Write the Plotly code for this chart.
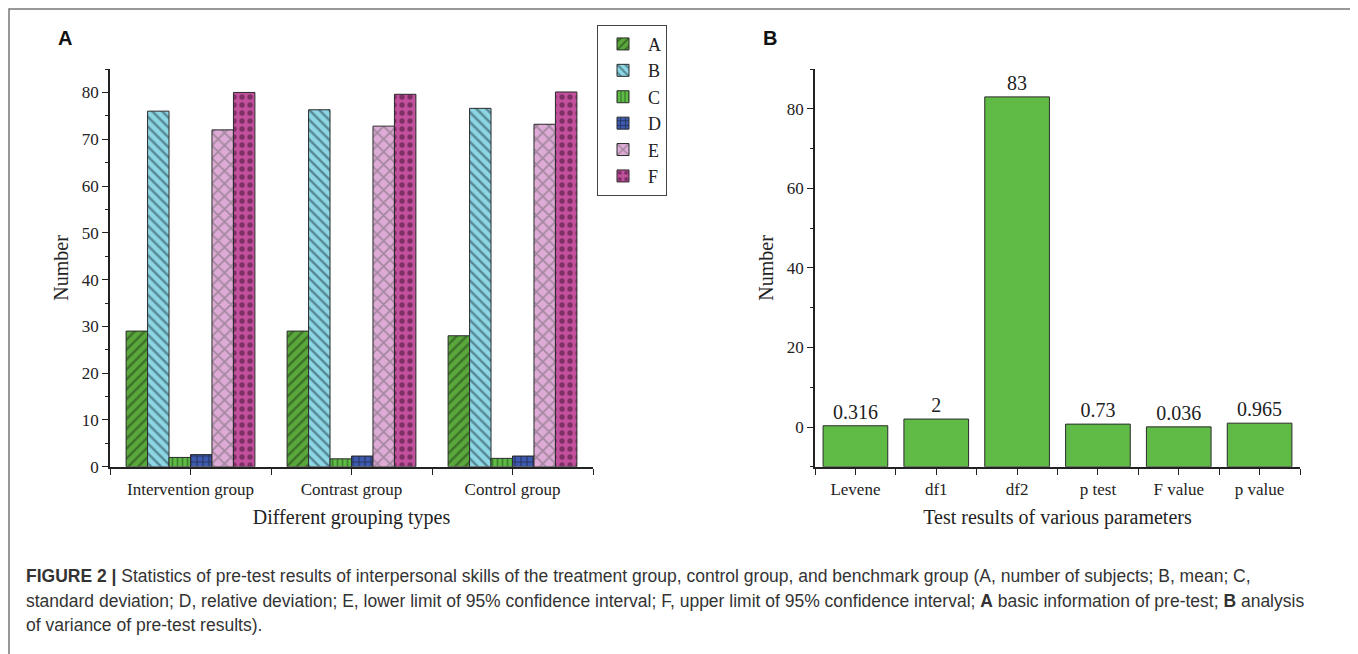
import plotly.graph_objects as go

# ---------------- data ----------------
groups = ["Intervention group", "Contrast group", "Control group"]
series_names = ["A", "B", "C", "D", "E", "F"]
vals_A = [29.0, 29.0, 28.0]
vals_B = [76.0, 76.3, 76.6]
vals_C = [2.0, 1.7, 1.8]
vals_D = [2.6, 2.3, 2.3]
vals_E = [72.0, 72.8, 73.2]
vals_F = [80.0, 79.6, 80.1]

params = ["Levene", "df1", "df2", "p test", "F value", "p value"]
param_vals = [0.316, 2, 83, 0.73, 0.036, 0.965]
param_labels = ["0.316", "2", "83", "0.73", "0.036", "0.965"]

caption_lines = [
    "<b>FIGURE 2 |</b> Statistics of pre-test results of interpersonal skills of the treatment group, control group, and benchmark group (A, number of subjects; B, mean; C,",
    "standard deviation; D, relative deviation; E, lower limit of 95% confidence interval; F, upper limit of 95% confidence interval; <b>A</b> basic information of pre-test; <b>B</b> analysis",
    "of variance of pre-test results).",
]

# ---------------- styling ----------------
OFF = 8  # default page body margin
W, H = 1358 - OFF, 654 - OFF
SERIF = "Liberation Serif"
SANS = "Liberation Sans"
series_vals = [vals_A, vals_B, vals_C, vals_D, vals_E, vals_F]
fills = ["#5aa83c", "#8dd6e4", "#5fbb45", "#3d5ab0", "#deaad6", "#c2519d"]
pshapes = ["/", "\\", "|", "+", "x", "."]
pfg = ["#1e3a14", "#1d3a44", "#1e4a18", "#111111", "#666666", "#3a1030"]
psize = [7, 7, 5, 6, 9, 8]


def px(x):
    return (x - OFF) / W


def py(y):
    return 1 - (y - OFF) / H


fig = go.Figure()

xs = list(range(len(groups)))
for name, v, fc, sh, fg, sz in zip(series_names, series_vals, fills, pshapes, pfg, psize):
    fig.add_trace(go.Bar(
        x=xs, y=v, name=name, xaxis="x", yaxis="y",
        marker=dict(color=fc, line=dict(color="#2b2b2b", width=1),
                    pattern=dict(shape=sh, fgcolor=fg, bgcolor=fc, size=sz, solidity=0.35)),
        offsetgroup=name,
    ))

base_b = -10
xb = list(range(len(params)))
fig.add_trace(go.Bar(
    x=xb, y=[v - base_b for v in param_vals], base=base_b,
    xaxis="x2", yaxis="y2", showlegend=False,
    marker=dict(color="#60bb46", line=dict(color="#2b2b2b", width=1)),
    text=param_labels, textposition="outside", cliponaxis=False,
    textfont=dict(family=SERIF, size=20, color="#222"),
    width=0.8,
))

axis_common = dict(
    showline=True, linecolor="#222", linewidth=1.5, ticks="outside",
    tickcolor="#222", ticklen=6, tickwidth=1.2, showgrid=False, zeroline=False,
    tickfont=dict(family=SERIF, size=17, color="#222"),
)
title_font = dict(family=SERIF, size=20, color="#222")

fig.update_layout(
    width=W, height=H, margin=dict(l=0, r=0, t=0, b=0),
    paper_bgcolor="white", plot_bgcolor="white",
    barmode="group", bargap=0.2, bargroupgap=0,
    showlegend=True,
    legend=dict(x=px(597), y=py(25), xanchor="left", yanchor="top",
                bordercolor="#444", borderwidth=1, bgcolor="white",
                font=dict(family=SERIF, size=18, color="#222"),
                tracegroupgap=0, itemwidth=40),
    xaxis=dict(domain=[px(110), px(593)], range=[-0.5, len(groups) - 0.5],
               tickvals=xs, ticktext=groups,
               minor=dict(tickvals=[i - 0.5 for i in range(len(groups) + 1)],
                          ticks="outside", ticklen=6, tickcolor="#222"),
               title=dict(text="Different grouping types", font=title_font, standoff=12),
               anchor="y", **axis_common),
    yaxis=dict(domain=[py(474), py(70)], range=[0, 85], tickvals=[0, 10, 20, 30, 40, 50, 60, 70, 80],
               minor=dict(dtick=5, tick0=0, ticks="outside", ticklen=3, tickcolor="#222"),
               title=dict(text="Number", font=title_font, standoff=8),
               anchor="x", **axis_common),
    xaxis2=dict(domain=[px(815), px(1300)], range=[-0.5, len(params) - 0.5],
                tickvals=xb, ticktext=params,
                minor=dict(tickvals=[i - 0.5 for i in range(len(params) + 1)],
                           ticks="outside", ticklen=6, tickcolor="#222"),
                title=dict(text="Test results of various parameters", font=title_font, standoff=12),
                anchor="y2", **axis_common),
    yaxis2=dict(domain=[py(474), py(70)], range=[-10, 90], tickvals=[0, 20, 40, 60, 80],
                minor=dict(dtick=10, tick0=0, ticks="outside", ticklen=3, tickcolor="#222"),
                title=dict(text="Number", font=title_font, standoff=8),
                anchor="x2", **axis_common),
)

annotations = [
    dict(text="<b>A</b>", x=px(65), y=py(38), xref="paper", yref="paper", showarrow=False,
         font=dict(family=SANS, size=20, color="#111"), xanchor="center", yanchor="middle"),
    dict(text="<b>B</b>", x=px(770), y=py(38), xref="paper", yref="paper", showarrow=False,
         font=dict(family=SANS, size=20, color="#111"), xanchor="center", yanchor="middle"),
]
for i, line in enumerate(caption_lines):
    annotations.append(dict(text=line, x=px(24), y=py(585 + 25 * i), xref="paper", yref="paper",
                            showarrow=False, xanchor="left", yanchor="middle", align="left",
                            font=dict(family=SANS, size=17.5, color="#333")))
fig.update_layout(annotations=annotations)

fig.add_shape(type="rect", xref="paper", yref="paper", x0=px(9), x1=px(1354), y0=py(670), y1=py(9),
              line=dict(color="#777", width=1.5), fillcolor="rgba(0,0,0,0)", layer="above")

fig.write_html("out.html")
